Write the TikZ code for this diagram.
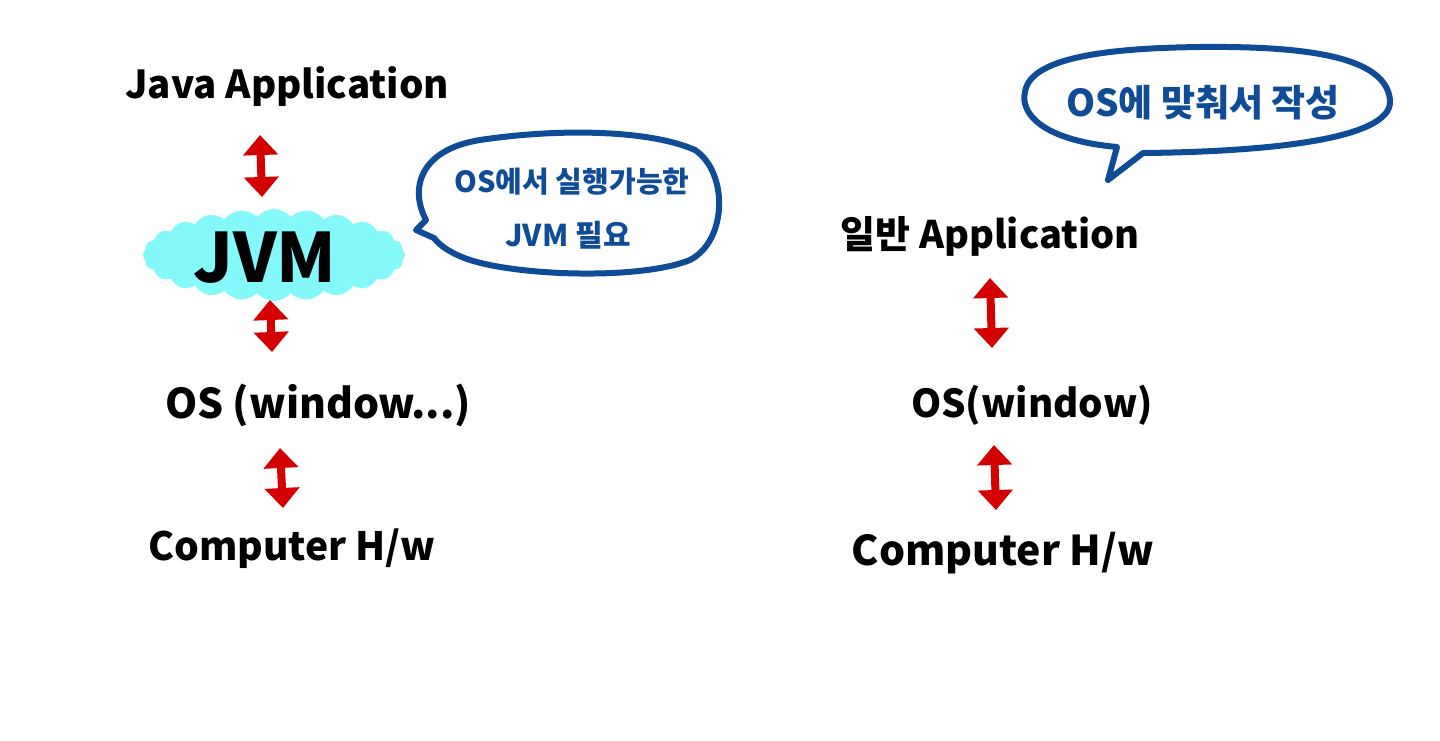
\documentclass[tikz,border=0pt]{standalone}
\usepackage{fontspec}
\setmainfont{Noto Sans CJK KR}
\usetikzlibrary{arrows.meta,shapes.symbols}
\definecolor{arrowred}{HTML}{D40000}
\definecolor{bubbleblue}{HTML}{0F4C97}
\definecolor{cloudcyan}{HTML}{84F9FC}
\tikzset{
  lbl/.style={font=\bfseries\fontsize{#1}{#1}\selectfont, text=black, inner sep=0pt},
  btxt/.style={font=\bfseries\fontsize{#1}{#1}\selectfont, text=bubbleblue, inner sep=0pt},
  dblarrow/.style={draw=arrowred, line width=8pt,
     {Triangle[width=34pt,length=20pt]}-{Triangle[width=34pt,length=20pt]}},
  bubble/.style={draw=bubbleblue, line width=6pt, line join=round, fill=white},
}
\begin{document}
\begin{tikzpicture}[x=1pt,y=-1pt]
\useasboundingbox[fill=white] (0,0) rectangle (1440,740);
% ---------- left column ----------
\node[lbl=38.5] (japp) at (287,86) {Java Application};
\node[cloud, cloud puffs=24, cloud puff arc=100, aspect=3.0, fill=cloudcyan, draw=none,
      minimum width=262pt, minimum height=92pt, inner sep=0pt] (cloud) at (274,255) {};
\node[font=\bfseries\fontsize{68}{70}\selectfont, inner sep=0pt] (jvm) at (265,258) {JVM};
\node[lbl=41] (los) at (318,405) {OS (window...)};
\node[lbl=39] (lhw) at (292,549) {Computer H/w};
\coordinate (a1t) at (260,135); \coordinate (a1b) at (262,197);
\coordinate (a2t) at (270,300); \coordinate (a2b) at (272,352);
\coordinate (a3t) at (280,448); \coordinate (a3b) at (283,508);
\draw[dblarrow] (a1t) -- (a1b);
\draw[dblarrow] (a2t) -- (a2b);
\draw[dblarrow] (a3t) -- (a3b);
% left bubble
\draw[bubble] (426,220) .. controls (410,190) and (418,150) .. (480,140)
  .. controls (560,128) and (650,130) .. (695,150)
  .. controls (728,172) and (728,240) .. (690,260)
  .. controls (640,280) and (520,276) .. (470,260)
  .. controls (452,254) and (440,246) .. (434,238) -- (416,230) -- cycle;
\node[btxt=29] (lb1) at (572,182) {OS에서 실행가능한};
\node[btxt=30] (lb2) at (568,235) {JVM 필요};
% ---------- right column ----------
\draw[bubble] (1117,147) .. controls (1040,140) and (1020,112) .. (1025,92)
  .. controls (1030,55) and (1120,48) .. (1200,47)
  .. controls (1300,46) and (1386,55) .. (1390,100)
  .. controls (1394,142) and (1250,152) .. (1143,153) -- (1108,180) -- cycle;
\node[btxt=37] (rb1) at (1203,103) {OS에 맞춰서 작성};
\node[lbl=38] (rapp) at (990,236) {일반 Application};
\node[lbl=38.5] (ros) at (1032,405) {OS(window)};
\node[lbl=41] (rhw) at (1003,553) {Computer H/w};
\coordinate (b1t) at (990,278); \coordinate (b1b) at (992,348);
\coordinate (b2t) at (994,445); \coordinate (b2b) at (996,510);
\draw[dblarrow] (b1t) -- (b1b);
\draw[dblarrow] (b2t) -- (b2b);
\end{tikzpicture}
\end{document}
